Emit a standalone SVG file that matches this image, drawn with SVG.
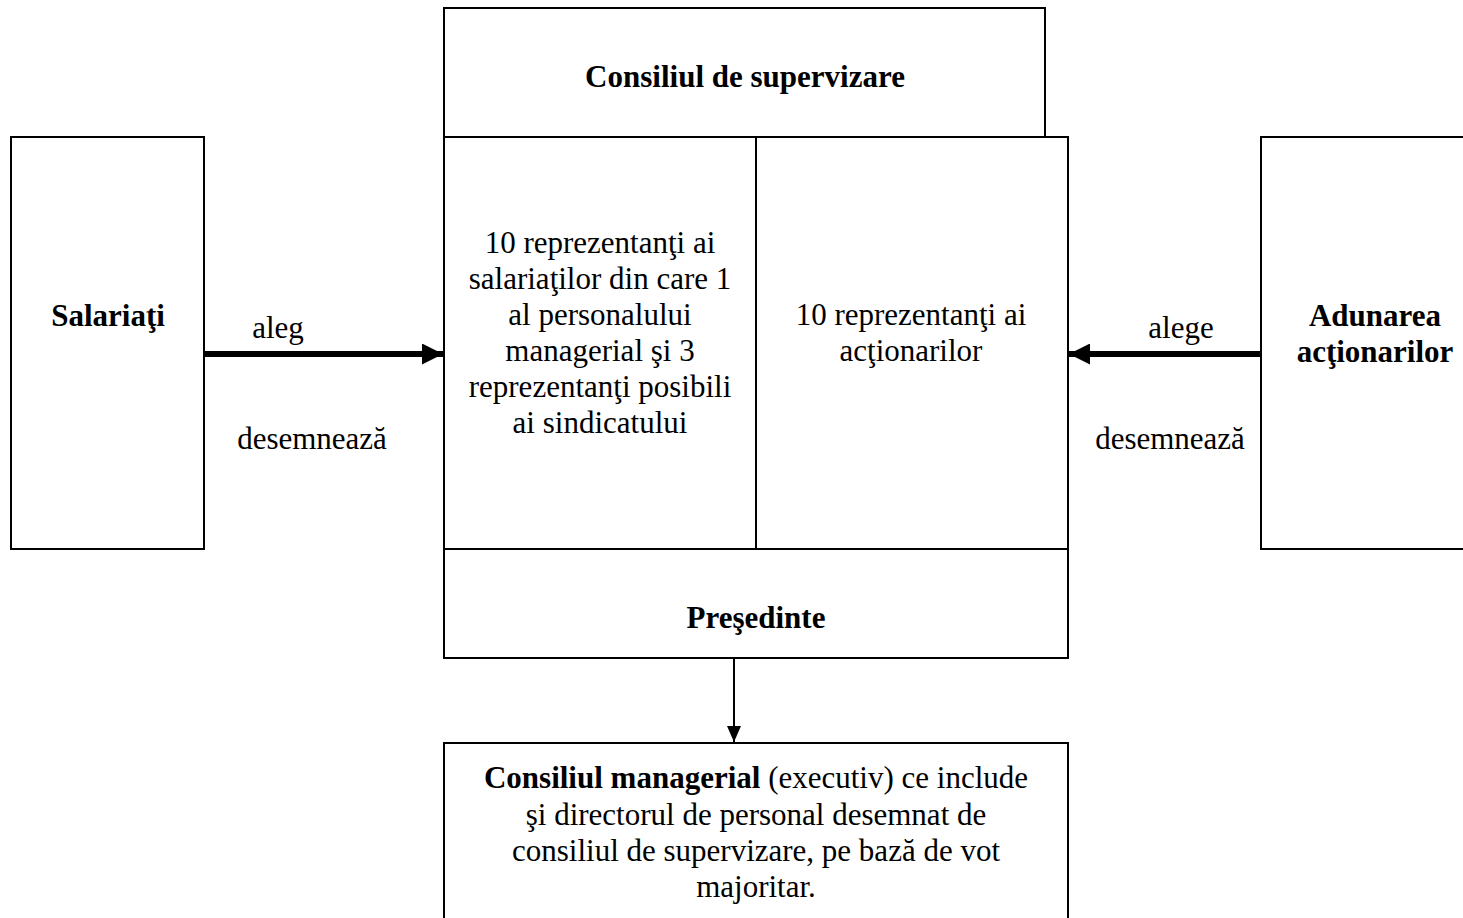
<svg xmlns="http://www.w3.org/2000/svg" width="1463" height="918" viewBox="0 0 1463 918">
<defs>
<style>
.box{fill:#fff;stroke:#000;stroke-width:2}
text{font-family:"Liberation Serif","Times New Roman",serif;font-size:31px;fill:#000;text-anchor:middle}
.b{font-weight:bold}
.thick{stroke:#000;stroke-width:6;fill:none}
.thin{stroke:#000;stroke-width:2;fill:none}
</style>
<marker id="ah" viewBox="0 0 10 10" refX="10" refY="5" markerWidth="3.5" markerHeight="3.5" orient="auto" markerUnits="strokeWidth"><path d="M0,0 L10,5 L0,10 z" fill="#000"/></marker>
<marker id="ah2" viewBox="0 0 10 10" preserveAspectRatio="none" refX="10" refY="5" markerWidth="8" markerHeight="7" orient="auto" markerUnits="strokeWidth"><path d="M0,0 L10,5 L0,10 z" fill="#000"/></marker>
</defs>
<g id="supervizare">
<rect class="box" x="444" y="8" width="601" height="129"/>
<text class="b" x="745" y="87">Consiliul de supervizare</text>
</g>
<g id="reprezentanti-salariati">
<rect class="box" x="444" y="137" width="312" height="412"/>
<text x="600" y="253">10 reprezentanţi ai</text>
<text x="600" y="289">salariaţilor din care 1</text>
<text x="600" y="325">al personalului</text>
<text x="600" y="361">managerial şi 3</text>
<text x="600" y="397">reprezentanţi posibili</text>
<text x="600" y="433">ai sindicatului</text>
</g>
<g id="reprezentanti-actionari">
<rect class="box" x="756" y="137" width="312" height="412"/>
<text x="911" y="325">10 reprezentanţi ai</text>
<text x="911" y="361">acţionarilor</text>
</g>
<g id="presedinte">
<rect class="box" x="444" y="549" width="624" height="109"/>
<text class="b" x="756" y="628">Preşedinte</text>
</g>
<g id="salariati">
<rect class="box" x="11" y="137" width="193" height="412"/>
<text class="b" x="108" y="326">Salariaţi</text>
</g>
<g id="adunarea">
<rect class="box" x="1261" y="137" width="220" height="412"/>
<text class="b" x="1375" y="326">Adunarea</text>
<text class="b" x="1375" y="362">acţionarilor</text>
</g>
<g id="consiliul-managerial">
<rect class="box" x="444" y="743" width="624" height="200"/>
<text x="756" y="788"><tspan class="b">Consiliul managerial</tspan> (executiv) ce include</text>
<text x="756" y="825">şi directorul de personal desemnat de</text>
<text x="756" y="861">consiliul de supervizare, pe bază de vot</text>
<text x="756" y="897">majoritar.</text>
</g>
<g id="connectors">
<line class="thick" x1="204" y1="354" x2="443" y2="354" marker-end="url(#ah)"/>
<line class="thick" x1="1261" y1="354" x2="1069" y2="354" marker-end="url(#ah)"/>
<line class="thin" x1="734" y1="658" x2="734" y2="742" marker-end="url(#ah2)"/>
<text x="278" y="338">aleg</text>
<text x="312" y="449">desemnează</text>
<text x="1181" y="338">alege</text>
<text x="1170" y="449">desemnează</text>
</g>
</svg>
